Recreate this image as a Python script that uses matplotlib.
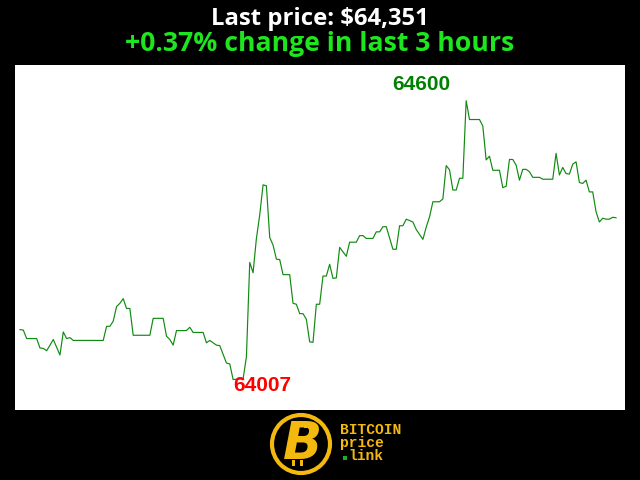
import numpy as np
import matplotlib
matplotlib.use("Agg")
import matplotlib.pyplot as plt
from matplotlib.patches import Circle, Rectangle

# ==== data (minutes ago -> price) ====
minutes = [0, 1, 2, 5, 6, 7, 8, 10, 12, 13,
           14, 15, 16, 25, 26, 27, 28, 29, 30, 31,
           32, 33, 34, 39, 40, 43, 44, 45, 46, 47,
           50, 51, 52, 55, 56, 57, 59, 60, 62, 63,
           64, 67, 68, 69, 70, 71, 72, 73, 74, 75,
           76, 77, 78, 79, 81, 82, 83, 84, 85, 86,
           87, 88, 89, 90, 91, 92, 93, 94, 95, 96,
           98, 99, 101, 102, 103, 104, 106, 107, 108, 109,
           110, 112, 113, 114, 115, 116, 117, 118, 119, 121,
           122, 123, 124, 126, 127, 128, 129, 130, 131, 132,
           133, 134, 135, 138, 139, 140, 141, 142, 144, 145,
           146, 147, 148, 149, 150, 151, 152, 153, 154, 156,
           157, 160, 161, 162, 163, 164, 165, 166, 167, 168,
           169, 170, 171, 172, 173, 174, 175, 176, 177, 178,
           179]
prices = [64113, 64112, 64094, 64094, 64074, 64073, 64068, 64092, 64059, 64108,
          64094, 64096, 64090, 64090, 64120, 64120, 64131, 64162, 64169, 64179,
          64158, 64158, 64101, 64101, 64137, 64137, 64099, 64092, 64080, 64111,
          64111, 64118, 64107, 64107, 64085, 64090, 64080, 64079, 64042, 64040,
          64007, 64008, 64055, 64256, 64234, 64307, 64357, 64421, 64419, 64309,
          64293, 64263, 64262, 64230, 64230, 64169, 64167, 64147, 64147, 64135,
          64087, 64086, 64167, 64167, 64227, 64227, 64252, 64222, 64223, 64288,
          64269, 64299, 64299, 64313, 64313, 64307, 64307, 64321, 64321, 64332,
          64332, 64284, 64284, 64334, 64334, 64348, 64345, 64342, 64326, 64305,
          64331, 64353, 64385, 64385, 64391, 64462, 64453, 64410, 64410, 64435,
          64435, 64600, 64560, 64560, 64546, 64474, 64482, 64452, 64452, 64415,
          64418, 64475, 64475, 64463, 64431, 64454, 64454, 64449, 64437, 64437,
          64433, 64433, 64488, 64442, 64458, 64445, 64444, 64465, 64470, 64426,
          64424, 64431, 64406, 64406, 64364, 64342, 64350, 64348, 64348, 64352,
          64351]
HOURS = 3

# ==== style ====
LINE_COLOR = "#108a10"
MAX_COLOR = "#008000"
MIN_COLOR = "#ff0000"
CHANGE_COLOR = "#1ee61e"
GOLD = "#f4b90e"


def draw_logo(fig):
    lay = fig.add_axes([0, 0, 1, 1], zorder=5)
    lay.set_xlim(0, 640)
    lay.set_ylim(480, 0)
    lay.axis("off")
    lay.patch.set_alpha(0)

    cx, cy = 301, 444
    lay.add_patch(Circle((cx, cy), 29, fill=False, ec=GOLD, lw=3))
    # bitcoin "B" with its little ticks
    for dx in (-5, 3):
        lay.add_patch(Rectangle((cx + dx, cy - 22), 3, 6, color=GOLD, lw=0))
        lay.add_patch(Rectangle((cx + dx - 4, cy + 16), 3, 6, color=GOLD, lw=0))
    lay.text(cx + 1, cy + 1, "B", color=GOLD, fontsize=37, fontweight="heavy",
             style="italic", family="DejaVu Sans", ha="center", va="center")

    mono = dict(color=GOLD, fontsize=10.5, fontweight="bold",
                family="Liberation Mono", ha="left", va="center")
    lay.text(340, 430, "BITCOIN", **mono)
    lay.text(340, 443, "price", **mono)
    lay.text(348, 456, "link", **mono)
    lay.add_patch(Rectangle((342.5, 456), 4, 4, color="#1fae1f", lw=0))


def main():
    t = np.array(minutes)
    p = np.array(prices)

    fig = plt.figure(figsize=(6.4, 4.8), dpi=100, facecolor="black")
    ax = fig.add_axes([15 / 640, 70 / 480, 610 / 640, 345 / 480])
    ax.set_facecolor("white")
    ax.plot(t, p, color=LINE_COLOR, lw=0.85)
    ax.set_xlim(-1.5, 181.7)
    ax.set_ylim(63942, 64676)
    ax.set_xticks([])
    ax.set_yticks([])
    for s in ax.spines.values():
        s.set_visible(False)

    i_max = int(np.argmax(p))
    i_min = int(np.argmin(p))
    ax.annotate(str(p[i_max]), (t[i_max], p[i_max]), xytext=(-16, 11),
                textcoords="offset pixels", ha="right", va="baseline",
                color=MAX_COLOR, fontsize=15, fontweight="bold",
                family="Liberation Sans")
    ax.annotate(str(p[i_min]), (t[i_min], p[i_min]), xytext=(0, -12),
                textcoords="offset pixels", ha="left", va="baseline",
                color=MIN_COLOR, fontsize=15, fontweight="bold",
                family="Liberation Sans")

    change = (p[-1] - p[0]) / p[0] * 100
    fig.text(0.5, 1 - 25 / 480, f"Last price: ${p[-1]:,}", color="white",
             fontsize=17.2, fontweight="bold", family="Open Sans",
             ha="center", va="baseline")
    fig.text(0.5, 1 - 51 / 480, f"{change:+.2f}% change in last {HOURS} hours",
             color=CHANGE_COLOR, fontsize=19.2, fontweight="bold",
             family="Open Sans", ha="center", va="baseline")

    draw_logo(fig)
    fig.savefig("out.png", dpi=100, facecolor="black")


if __name__ == "__main__":
    main()
